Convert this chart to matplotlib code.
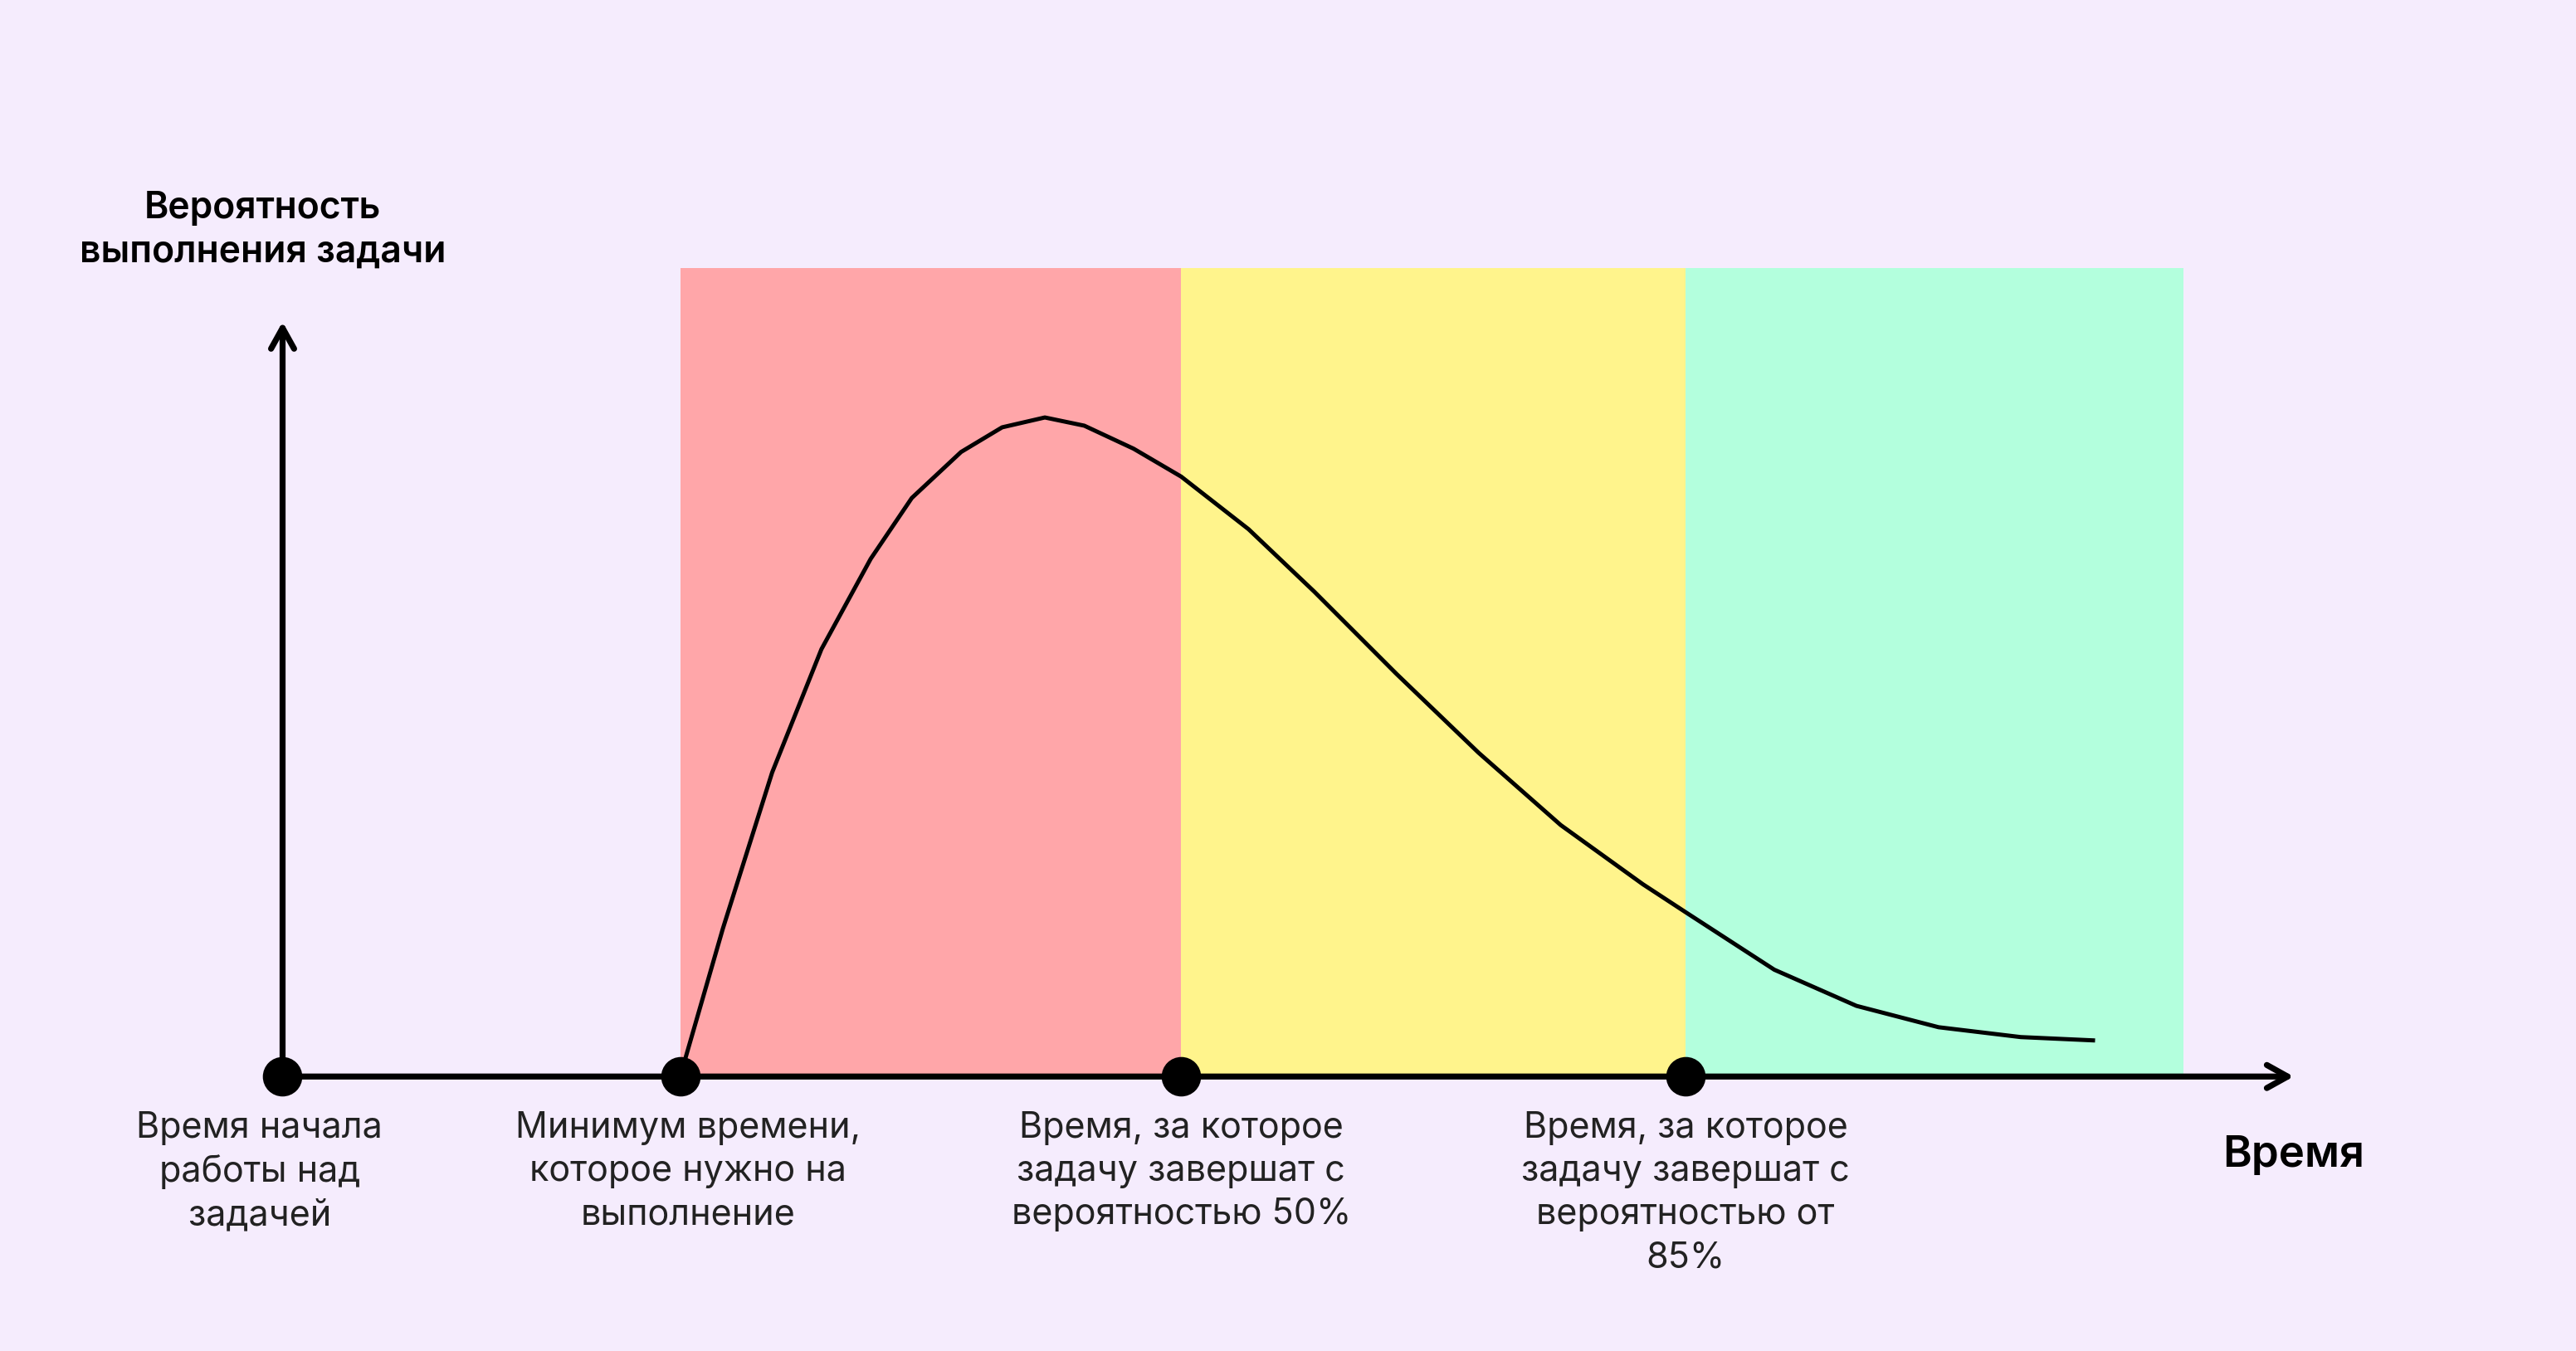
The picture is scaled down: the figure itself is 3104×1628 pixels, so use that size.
import matplotlib
matplotlib.use("Agg")
import matplotlib.pyplot as plt
from matplotlib.patches import Rectangle

# Data in canvas units (x: time, y: height above baseline)
zone_edges = [414, 719, 1026, 1329]
zone_colors = ["#FFA6A9", "#FFF48C", "#B3FFDD"]
zone_top = 659
curve_x = [414, 440, 470, 500, 530, 555, 585, 610, 636, 660, 690, 719, 760, 800, 850, 900, 950, 1000, 1026, 1080, 1130, 1180, 1230, 1274]
curve_y = [655, 565, 470, 395, 340, 303, 275, 260, 254, 259, 273, 290, 322, 360, 410, 458, 502, 538, 555, 590, 612, 625, 631, 633]
marker_x = [172, 414, 719, 1026]
marker_labels = ["Время начала\nработы над\nзадачей",
                 "Минимум времени,\nкоторое нужно на\nвыполнение",
                 "Время, за которое\nзадачу завершат с\nвероятностью 50%",
                 "Время, за которое\nзадачу завершат с\nвероятностью от\n85%"]
label_x = [158, 419, 719, 1026]

H = 822
bg = "#F5ECFD"
fig = plt.figure(figsize=(15.52, 8.14), dpi=200, facecolor=bg)
ax = fig.add_axes([0, 0, 1, 1])
ax.set_xlim(0, 1568)
ax.set_ylim(0, H)
ax.axis("off")
ax.set_facecolor(bg)

base = H - 655
for i, c in enumerate(zone_colors):
    ax.add_patch(Rectangle((zone_edges[i], base), zone_edges[i+1]-zone_edges[i], zone_top - base + 0, color=c, lw=0, zorder=1))
    ax.patches[-1].set_height((H - 163) - base)

ax.plot(curve_x, [H - y for y in curve_y], color="black", lw=1.8, zorder=3)

# axes arrows
ax.annotate("", xy=(1399, base), xytext=(172, base),
            arrowprops=dict(arrowstyle="->,head_length=0.9,head_width=0.5", lw=2.6, color="black"), zorder=4)
ax.annotate("", xy=(172, H - 193), xytext=(172, base),
            arrowprops=dict(arrowstyle="->,head_length=0.9,head_width=0.5", lw=2.6, color="black"), zorder=4)
ax.scatter(marker_x, [base]*len(marker_x), s=260, color="black", zorder=5)

font = "Inter"
for lx, t in zip(label_x, marker_labels):
    ax.text(lx, H - 676, t, ha="center", va="top", fontsize=15.5, family=font,
            color="#222222", linespacing=1.35)
ax.text(160, H - 140, "Вероятность\nвыполнения задачи", ha="center", va="center",
        fontsize=16, family=font, fontweight="semibold", linespacing=1.3)
ax.text(1396, H - 703, "Время", ha="center", va="center", fontsize=19,
        family=font, fontweight="semibold")

fig.savefig("out.png", dpi=200, facecolor=bg)
